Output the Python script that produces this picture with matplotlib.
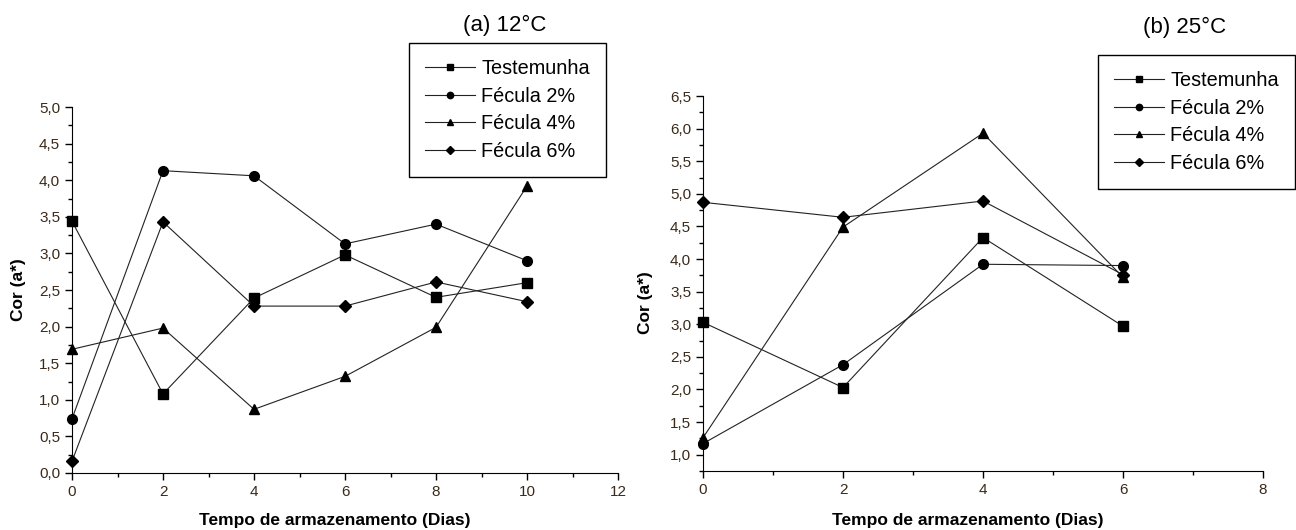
import numpy as np
import matplotlib
matplotlib.use("Agg")
from matplotlib import pyplot as plt
from matplotlib.ticker import MultipleLocator, FuncFormatter

plt.rcParams['font.family'] = ['Liberation Sans', 'DejaVu Sans']

nomes = ['Testemunha', 'Fécula 2%', 'Fécula 4%', 'Fécula 6%']
marcadores = ['s', 'o', '^', 'D']

## (a) 12 graus
dias_a = [0, 2, 4, 6, 8, 10]
test_a = [3.44, 1.08, 2.39, 2.98, 2.40, 2.60]
fec2_a = [0.74, 4.13, 4.06, 3.13, 3.40, 2.90]
fec4_a = [1.69, 1.98, 0.87, 1.32, 1.99, 3.92]
fec6_a = [0.16, 3.43, 2.28, 2.28, 2.61, 2.34]

## (b) 25 graus
dias_b = [0, 2, 4, 6]
test_b = [3.03, 2.03, 4.33, 2.97]
fec2_b = [1.17, 2.38, 3.92, 3.90]
fec4_b = [1.26, 4.49, 5.93, 3.72]
fec6_b = [4.87, 4.64, 4.89, 3.76]

virgula = FuncFormatter(lambda v, p: ('%.1f' % v).replace('.', ','))

fig = plt.figure(figsize=(12.96, 5.30), dpi=100)
ax1 = fig.add_axes([72/1296, 57/530, 546/1296, 366/530])
ax2 = fig.add_axes([703/1296, 59/530, 560/1296, 375/530])


def desenha(ax, dias, series, xlim, ylim):
    for s, m, n in zip(series, marcadores, nomes):
        ax.plot(dias, s, color='#222222', lw=0.8, marker=m,
                markersize=7 if m != 'D' else 6, markerfacecolor='black',
                markeredgecolor='black', label=n, clip_on=False)
    ax.set_xlim(*xlim)
    ax.set_ylim(*ylim)
    ax.xaxis.set_major_locator(MultipleLocator(2))
    ax.xaxis.set_minor_locator(MultipleLocator(1))
    ax.yaxis.set_minor_locator(MultipleLocator(0.25))
    ax.yaxis.set_major_formatter(virgula)
    ax.spines['top'].set_visible(False)
    ax.spines['right'].set_visible(False)
    ax.tick_params(which='major', length=5, width=1, labelsize=11, colors='black', labelcolor='#3a2a1a')
    ax.tick_params(which='minor', length=3, width=1)
    ax.set_ylabel('Cor (a*)', fontsize=12.5, fontweight='bold')


desenha(ax1, dias_a, [test_a, fec2_a, fec4_a, fec6_a], (0, 12), (0, 5.0))
desenha(ax2, dias_b, [test_b, fec2_b, fec4_b, fec6_b], (0, 8), (0.75, 6.5))
ax1.yaxis.set_major_locator(MultipleLocator(0.5))
ax2.set_yticks(np.arange(1.0, 6.51, 0.5))

# label positions in figure pixels
fig.text(335/1296, 1 - 520/530, 'Tempo de armazenamento (Dias)', fontsize=12.5,
         fontweight='bold', ha='center', va='center')
fig.text(968/1296, 1 - 520/530, 'Tempo de armazenamento (Dias)', fontsize=12.5,
         fontweight='bold', ha='center', va='center')
ax1.yaxis.set_label_coords(-0.085, 0.5)
ax2.yaxis.set_label_coords(-0.09, 0.45)

fig.text(505/1296, 1 - 25/530, '(a) 12°C', fontsize=16, ha='center', va='center')
fig.text(1185/1296, 1 - 27/530, '(b) 25°C', fontsize=16, ha='center', va='center')

for ax, x0, y0 in [(ax1, 409, 43), (ax2, 1098, 55)]:
    leg = ax.legend(loc='upper left', bbox_to_anchor=(x0/1296, 1 - y0/530),
                    bbox_transform=fig.transFigure, borderaxespad=0, fontsize=14.3,
                    frameon=True, fancybox=False, framealpha=1, handlelength=2.5,
                    handletextpad=0.35, borderpad=0.8, labelspacing=0.44,
                    markerscale=0.65)
    leg.get_frame().set_edgecolor('black')
    leg.get_frame().set_linewidth(1.0)

fig.savefig('out.png', dpi=100)
